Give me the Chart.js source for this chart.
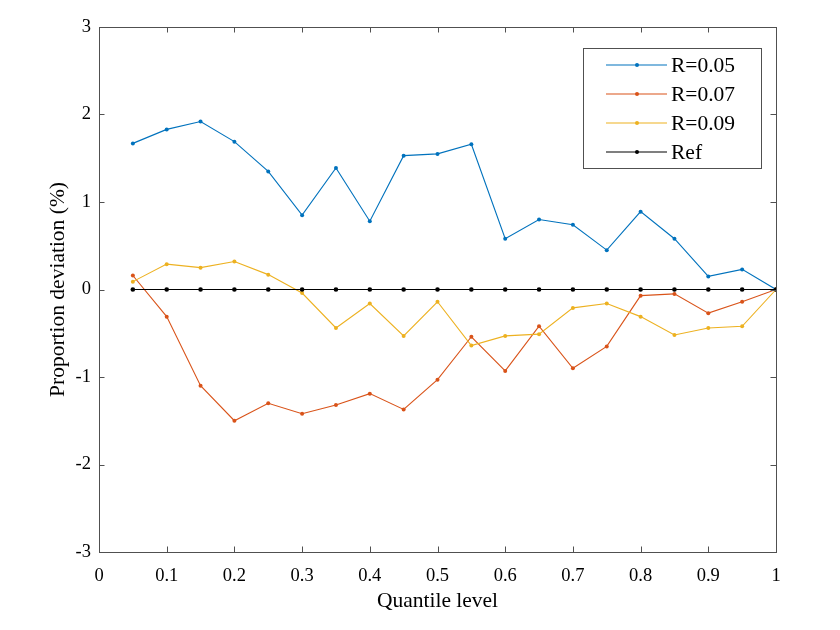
<!DOCTYPE html>
<html>
<head>
<meta charset="utf-8">
<script src="https://cdn.jsdelivr.net/npm/chart.js@4"></script>
<style>
  html, body { margin: 0; padding: 0; background: #fff; }
  #wrap { width: 840px; height: 630px; }
</style>
</head>
<body>
<div id="wrap"><canvas id="chart"></canvas></div>
<script>
const quantiles = [0.05, 0.1, 0.15, 0.2, 0.25, 0.3, 0.35, 0.4, 0.45, 0.5,
  0.55, 0.6, 0.65, 0.7, 0.75, 0.8, 0.85, 0.9, 0.95, 1];

const r005 = [1.67, 1.83, 1.92, 1.69, 1.35, 0.85, 1.39, 0.78, 1.53, 1.55,
  1.66, 0.58, 0.80, 0.74, 0.45, 0.89, 0.58, 0.15, 0.23, 0];
const r007 = [0.16, -0.31, -1.10, -1.50, -1.30, -1.42, -1.32, -1.19, -1.37, -1.03,
  -0.54, -0.93, -0.42, -0.90, -0.65, -0.07, -0.05, -0.27, -0.14, 0];
const r009 = [0.09, 0.29, 0.25, 0.32, 0.17, -0.04, -0.44, -0.16, -0.53, -0.14,
  -0.64, -0.53, -0.51, -0.21, -0.16, -0.31, -0.52, -0.44, -0.42, 0];
const refLine = [0, 0, 0, 0, 0, 0, 0, 0, 0, 0, 0, 0, 0, 0, 0, 0, 0, 0, 0, 0];

const seriesNames = ["R=0.05", "R=0.07", "R=0.09", "Ref"];
const seriesColors = ["#0072BD", "#D95319", "#EDB120", "#000000"];

const serif = "'Liberation Serif', 'Times New Roman', serif";
const axisColor = "#505050";

function points(values) {
  return values.map((v, i) => ({ x: quantiles[i], y: v }));
}

// MATLAB-style box with inward ticks on all four sides
const boxPlugin = {
  id: "box",
  afterDatasetsDraw(chart) {
    const ctx = chart.ctx;
    const a = chart.chartArea;
    const xs = chart.scales.x;
    const ys = chart.scales.y;
    const tl = 5.5;
    ctx.save();
    ctx.strokeStyle = axisColor;
    ctx.lineWidth = 1;
    ctx.beginPath();
    xs.ticks.forEach((t) => {
      const px = Math.round(xs.getPixelForValue(t.value)) + 0.5;
      ctx.moveTo(px, a.bottom);
      ctx.lineTo(px, a.bottom - tl);
      ctx.moveTo(px, a.top);
      ctx.lineTo(px, a.top + tl);
    });
    ys.ticks.forEach((t) => {
      const py = Math.round(ys.getPixelForValue(t.value)) + 0.5;
      ctx.moveTo(a.left, py);
      ctx.lineTo(a.left + tl, py);
      ctx.moveTo(a.right, py);
      ctx.lineTo(a.right - tl, py);
    });
    ctx.stroke();
    ctx.strokeRect(Math.round(a.left) + 0.5, Math.round(a.top) + 0.5,
      Math.round(a.right - a.left), Math.round(a.bottom - a.top));
    ctx.restore();
  },
  afterDraw(chart) {
    // legend box in the upper right corner
    const ctx = chart.ctx;
    const a = chart.chartArea;
    const boxRight = a.right - 15;
    const boxLeft = boxRight - 178;
    const boxTop = a.top + 21;
    const boxBottom = boxTop + 120;
    ctx.save();
    ctx.fillStyle = "#fff";
    ctx.fillRect(boxLeft, boxTop, boxRight - boxLeft, boxBottom - boxTop);
    ctx.strokeStyle = axisColor;
    ctx.lineWidth = 1;
    ctx.strokeRect(Math.round(boxLeft) + 0.5, Math.round(boxTop) + 0.5,
      Math.round(boxRight - boxLeft), Math.round(boxBottom - boxTop));
    ctx.font = "21.5px " + serif;
    ctx.textBaseline = "middle";
    ctx.textAlign = "left";
    seriesNames.forEach((name, i) => {
      const y = boxTop + 17 + i * 29;
      ctx.strokeStyle = seriesColors[i];
      ctx.lineWidth = 1.1;
      ctx.beginPath();
      ctx.moveTo(boxLeft + 23, y);
      ctx.lineTo(boxLeft + 84, y);
      ctx.stroke();
      ctx.fillStyle = seriesColors[i];
      ctx.beginPath();
      ctx.arc(boxLeft + 54, y, 2, 0, Math.PI * 2);
      ctx.fill();
      ctx.fillStyle = "#000";
      ctx.fillText(name, boxLeft + 88, y + 1);
    });
    ctx.restore();
  },
};

const seriesValues = [r005, r007, r009, refLine];

const datasets = seriesValues.map((vals, i) => ({
  label: seriesNames[i],
  data: points(vals),
  borderColor: seriesColors[i],
  backgroundColor: seriesColors[i],
  borderWidth: 1.1,
  pointRadius: i === 3 ? 2.3 : 2,
  pointBorderWidth: 0,
  pointStyle: "circle",
  tension: 0,
  fill: false,
  order: 4 - i,
}));

const ctx = document.getElementById("chart").getContext("2d");
new Chart(ctx, {
  type: "line",
  data: { datasets: datasets },
  plugins: [boxPlugin],
  options: {
    responsive: true,
    maintainAspectRatio: false,
    animation: false,
    layout: { padding: { left: 0, right: 64, top: 27, bottom: 0 } },
    plugins: {
      legend: { display: false },
      tooltip: { enabled: false },
    },
    scales: {
      x: {
        type: "linear",
        min: 0,
        max: 1,
        border: { display: false },
        grid: { display: false, drawTicks: false },
        ticks: {
          stepSize: 0.1,
          padding: 13,
          color: "#000",
          font: { family: serif, size: 18.5 },
          callback: (v) => String(Math.round(v * 10) / 10),
        },
        title: {
          display: true,
          text: "Quantile level",
          color: "#000",
          font: { family: serif, size: 21.5 },
          padding: { top: 0, bottom: 16 },
        },
        afterFit: (scale) => { scale.height = 78; },
      },
      y: {
        min: -3,
        max: 3,
        border: { display: false },
        grid: { display: false, drawTicks: false },
        ticks: {
          stepSize: 1,
          padding: 8,
          color: "#000",
          font: { family: serif, size: 18.5 },
          callback: (v) => String(v),
        },
        title: {
          display: true,
          text: "Proportion deviation (%)",
          color: "#000",
          font: { family: serif, size: 21.5 },
          padding: { top: 45, bottom: 0 },
        },
        afterFit: (scale) => { scale.width = 99; },
      },
    },
  },
});
</script>
</body>
</html>
